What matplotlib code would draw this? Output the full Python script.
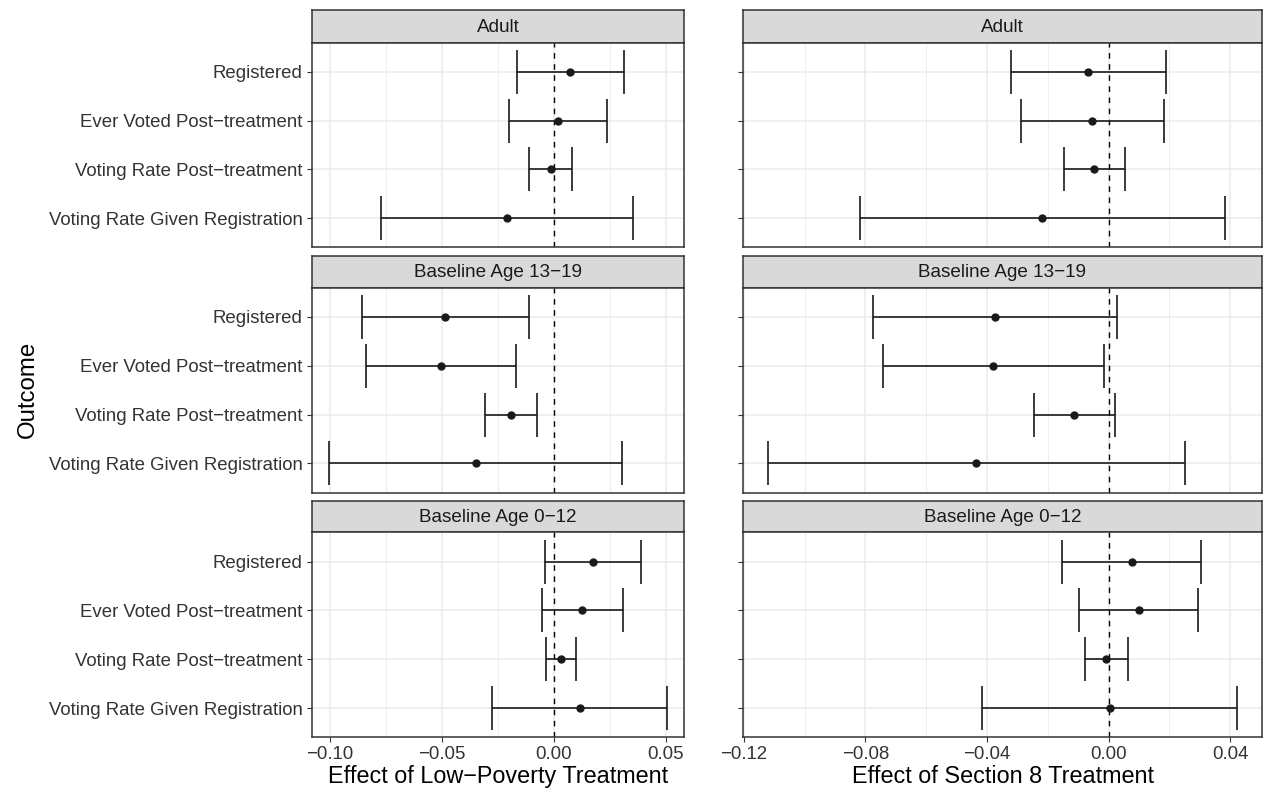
import numpy as np
import matplotlib.pyplot as plt
from matplotlib.ticker import MultipleLocator

plt.rcParams['font.family'] = ['Liberation Sans', 'DejaVu Sans']

# Datos
outcomes = ["Registered", "Ever Voted Post\u2212treatment",
            "Voting Rate Post\u2212treatment", "Voting Rate Given Registration"]
groups = ["Adult", "Baseline Age 13\u221219", "Baseline Age 0\u221212"]

# Low-poverty treatment (filas = grupos, columnas = outcomes)
lp_est = [[0.0075, 0.0020, -0.0013, -0.0206],
          [-0.0484, -0.0502, -0.0190, -0.0347],
          [0.0175, 0.0127, 0.0032, 0.0117]]
lp_lo = [[-0.0163, -0.0197, -0.0109, -0.0770],
         [-0.0856, -0.0836, -0.0306, -0.1004],
         [-0.0039, -0.0054, -0.0035, -0.0273]]
lp_hi = [[0.0315, 0.0237, 0.0084, 0.0356],
         [-0.0112, -0.0170, -0.0072, 0.0307],
         [0.0390, 0.0309, 0.0099, 0.0507]]

# Section 8 treatment
s8_est = [[-0.0066, -0.0053, -0.0047, -0.0218],
          [-0.0374, -0.0379, -0.0113, -0.0436],
          [0.0076, 0.0099, -0.0007, 0.0004]]
s8_lo = [[-0.0321, -0.0288, -0.0148, -0.0818],
         [-0.0775, -0.0742, -0.0246, -0.1122],
         [-0.0152, -0.0098, -0.0077, -0.0415]]
s8_hi = [[0.0189, 0.0183, 0.0054, 0.0382],
         [0.0027, -0.0015, 0.0021, 0.0250],
         [0.0305, 0.0296, 0.0065, 0.0422]]

W, H = 1263, 807
fig = plt.figure(figsize=(W / 100, H / 100), dpi=100)

def px_axes(x0, y0, x1, y1):
    # coordenadas en pixeles desde arriba-izquierda
    return fig.add_axes([x0 / W, 1 - y1 / H, (x1 - x0) / W, (y1 - y0) / H])

cols = [(311.7, 684.0), (743.0, 1262.0)]
rows = [(10.3, 42.7, 247.3), (255.7, 287.7, 492.7), (501.0, 532.3, 737.3)]
xlims = [(-0.108, 0.0582), (-0.1203, 0.0505)]
majors = [0.05, 0.04]
minors = [0.025, 0.02]
data = [(lp_est, lp_lo, lp_hi), (s8_est, s8_lo, s8_hi)]
xlabels = ["Effect of Low\u2212Poverty Treatment", "Effect of Section 8 Treatment"]

border = "#333333"
txt = "#333333"

for c, (x0, x1) in enumerate(cols):
    est, lo, hi = data[c]
    for r, (ys, yp, yb) in enumerate(rows):
        # strip
        sax = px_axes(x0, ys, x1, yp)
        sax.set_facecolor("#D9D9D9")
        sax.set_xticks([])
        sax.set_yticks([])
        for sp in sax.spines.values():
            sp.set_color(border)
            sp.set_linewidth(1.1)
        sax.text(0.5, 0.47, groups[r], ha="center", va="center",
                 fontsize=13.6, color="#1a1a1a", transform=sax.transAxes)

        ax = px_axes(x0, yp, x1, yb)
        ypos = np.arange(len(outcomes))[::-1] + 1
        ax.set_xlim(*xlims[c])
        ax.set_ylim(0.4, 4.6)
        ax.xaxis.set_major_locator(MultipleLocator(majors[c]))
        ax.xaxis.set_minor_locator(MultipleLocator(minors[c]))
        ax.grid(True, which="major", color="#EBEBEB", linewidth=1.1)
        ax.grid(True, which="minor", axis="x", color="#EBEBEB", linewidth=0.6)
        ax.set_axisbelow(True)

        ax.axvline(0, color="black", linestyle=(0, (4, 4)), linewidth=1.0, zorder=2)
        ax.hlines(ypos, lo[r], hi[r], color="#1a1a1a", linewidth=1.2, zorder=3)
        ax.vlines(lo[r], ypos - 0.45, ypos + 0.45, color="#1a1a1a", linewidth=1.2, zorder=3)
        ax.vlines(hi[r], ypos - 0.45, ypos + 0.45, color="#1a1a1a", linewidth=1.2, zorder=3)
        ax.plot(est[r], ypos, "o", color="#1a1a1a", markersize=5, zorder=4)

        ax.set_yticks(ypos)
        ax.tick_params(which="major", color=border, length=3.5, width=0.8, pad=3)
        ax.tick_params(which="minor", length=0)
        if c == 0:
            ax.set_yticklabels(outcomes, fontsize=13.4, color=txt)
        else:
            ax.set_yticklabels([])
        if r == len(rows) - 1:
            ax.tick_params(axis="x", labelsize=13.4, labelcolor=txt)
            ax.set_xlabel(xlabels[c], fontsize=16.8, color="black", labelpad=1)
        else:
            ax.tick_params(axis="x", which="both", labelbottom=False, length=0)
        for sp in ax.spines.values():
            sp.set_color(border)
            sp.set_linewidth(1.1)

fig.text(28 / W, 1 - 389 / H, "Outcome", rotation=90, ha="center", va="center",
         fontsize=17.3, color="black")

plt.savefig("out.png", dpi=100)
